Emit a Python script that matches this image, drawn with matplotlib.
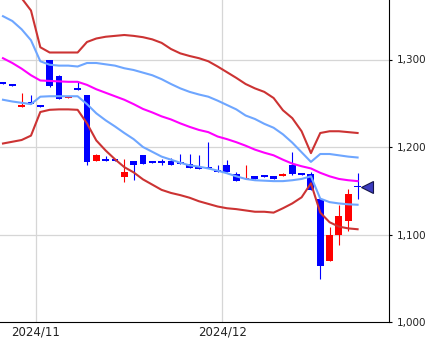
import matplotlib
matplotlib.use('Agg')
import matplotlib.pyplot as plt
import numpy as np
import pandas as pd

# trading days (Nov 4 was a holiday)
dates = pd.bdate_range('2024-10-28', '2024-12-20')
dates = dates[dates != pd.Timestamp('2024-11-04')]

opens = [1273, 1271, 1246, 1250, 1247, 1299, 1281, 1256, 1266, 1260,
         1184, 1185, 1185, 1166, 1184, 1190.5, 1182.5, 1182.5, 1184, 1182,
         1181, 1177, 1177, 1174, 1179, 1169, 1163, 1166.5, 1167, 1166.5,
         1167, 1179, 1169, 1169.5, 1141, 1070, 1099, 1116, 1155]
highs = [1273, 1271, 1262, 1259, 1247, 1300, 1282, 1257, 1274, 1260,
         1192.5, 1190, 1185, 1186, 1184, 1191, 1182.5, 1186, 1187, 1192,
         1192.5, 1190.5, 1206, 1180, 1185, 1172, 1179, 1166.5, 1167, 1166.5,
         1170, 1194, 1169, 1172, 1141, 1109, 1134, 1152, 1170]
lows = [1272, 1270, 1245.5, 1249, 1246, 1269, 1255, 1256, 1265, 1180,
        1184, 1184, 1184, 1160, 1162, 1181, 1181.5, 1179, 1180, 1181,
        1176, 1175, 1175.5, 1172, 1172, 1161, 1163, 1164, 1166, 1164,
        1167, 1167.5, 1168, 1151, 1049, 1070, 1088, 1104, 1141]
closes = [1272, 1270, 1248.5, 1249, 1246, 1270, 1255, 1257, 1265, 1183,
          1190.5, 1184, 1184, 1171, 1180, 1181, 1181.5, 1181.5, 1180, 1181,
          1176, 1175, 1175.5, 1172, 1172, 1161, 1164.5, 1164, 1166, 1164,
          1169, 1169.5, 1168, 1151, 1063.5, 1100, 1121, 1146, 1154]

# bollinger bands
upper2 = [1396, 1382, 1370, 1356, 1314, 1308, 1308, 1308, 1308, 1320,
          1324, 1326, 1327, 1328, 1327, 1325.5, 1323, 1319, 1312, 1307,
          1304, 1301.5, 1298, 1292, 1285.5, 1279, 1272, 1267, 1263, 1256,
          1242, 1233, 1218, 1193, 1216, 1218, 1218, 1217, 1216]
upper1 = [1349.5, 1344, 1334.5, 1322, 1298, 1294, 1293, 1293, 1292, 1296,
          1296, 1294.5, 1293, 1290, 1288, 1285, 1282, 1277.5, 1272, 1267,
          1263, 1260, 1257.5, 1253, 1248, 1243, 1236, 1232, 1226.5, 1222,
          1214.5, 1205, 1194, 1183, 1192, 1192, 1190.5, 1189, 1188]
middle = [1301.5, 1296, 1289.5, 1282, 1276, 1275.5, 1275, 1274.5, 1274.5, 1271,
          1266, 1262, 1258, 1254, 1249, 1243.5, 1239.5, 1235, 1231.5, 1227,
          1223, 1219.5, 1217, 1212, 1209, 1205.5, 1201.5, 1197, 1193.5, 1190.5,
          1185.5, 1181, 1178, 1175.5, 1170.5, 1166.5, 1163.5, 1162, 1161]
lower1 = [1254, 1252, 1250.5, 1249, 1257.5, 1258, 1258, 1258, 1258, 1249,
          1238.5, 1230.5, 1223.5, 1216, 1209, 1200, 1194.5, 1189, 1185.5, 1182,
          1179, 1177.5, 1175.5, 1173, 1170, 1166.5, 1163.5, 1162, 1161.5, 1161,
          1161, 1162, 1163.5, 1166.5, 1141, 1137, 1135.5, 1134.5, 1134]
lower2 = [1204, 1206, 1208, 1213, 1240, 1242.5, 1243, 1243, 1242.5, 1227,
          1207.5, 1196, 1186, 1177, 1171, 1163, 1157, 1151, 1147.5, 1145,
          1142, 1138, 1135, 1132, 1130, 1129, 1127.5, 1126, 1126, 1125,
          1130, 1135.5, 1142.5, 1158.5, 1125, 1114, 1109, 1107, 1106]

y_ticks = [1000, 1100, 1200, 1300]

x = np.arange(len(dates))
o = np.array(opens)
c = np.array(closes)
up = c >= o
colors = np.where(up, '#ff0000', '#0000ff')

fig = plt.figure(figsize=(4.31, 3.43), dpi=100)
ax = fig.add_axes([0, 21 / 343, 389.5 / 431, 322 / 343])

# month boundaries
month_pos = [i - 0.5 for i in range(1, len(dates)) if dates[i].month != dates[i - 1].month]
month_lab = [dates[i].strftime('%Y/%m') for i in range(1, len(dates)) if dates[i].month != dates[i - 1].month]

for yv in y_ticks[1:]:
    ax.axhline(yv, color='#d6d6d6', lw=0.9, zorder=0)
for xv in month_pos:
    ax.axvline(xv, color='#d6d6d6', lw=0.9, zorder=0)

ax.vlines(x, lows, highs, colors=colors, lw=0.8, zorder=2)
body = np.maximum(np.abs(c - o), 2)
ax.bar(x, body, bottom=np.minimum(o, c), width=0.74, color=colors, lw=0, zorder=3)

ax.plot(x, upper2, color='#cc3333', lw=1.5, zorder=4)
ax.plot(x, lower2, color='#cc3333', lw=1.5, zorder=4)
ax.plot(x, upper1, color='#6ea6ff', lw=1.5, zorder=4)
ax.plot(x, lower1, color='#6ea6ff', lw=1.5, zorder=4)
ax.plot(x, middle, color='#ff00ff', lw=1.5, zorder=4)

# last price marker
ax.plot(len(dates), closes[-1], marker='<', ms=8.5, color='#3c3cc0',
        mec='#15154a', mew=0.8, clip_on=False, zorder=5)

ax.set_xlim(-0.32, 41.42)
ax.set_ylim(1000, 1368)

ax.spines['top'].set_visible(False)
ax.spines['left'].set_visible(False)
ax.spines['right'].set_color('black')
ax.spines['bottom'].set_color('black')

ax.yaxis.tick_right()
ax.set_yticks(y_ticks)
ax.set_yticklabels([f'{v:,}' for v in y_ticks])
ax.tick_params(axis='y', direction='out', length=2.5, width=0.8, pad=3,
               labelsize=7.5, labelcolor='#222222')
ax.set_xticks(month_pos)
ax.set_xticklabels(month_lab)
ax.tick_params(axis='x', length=0, pad=2.5, labelsize=8.5, labelcolor='#222222')

fig.savefig('out.png', dpi=100)
